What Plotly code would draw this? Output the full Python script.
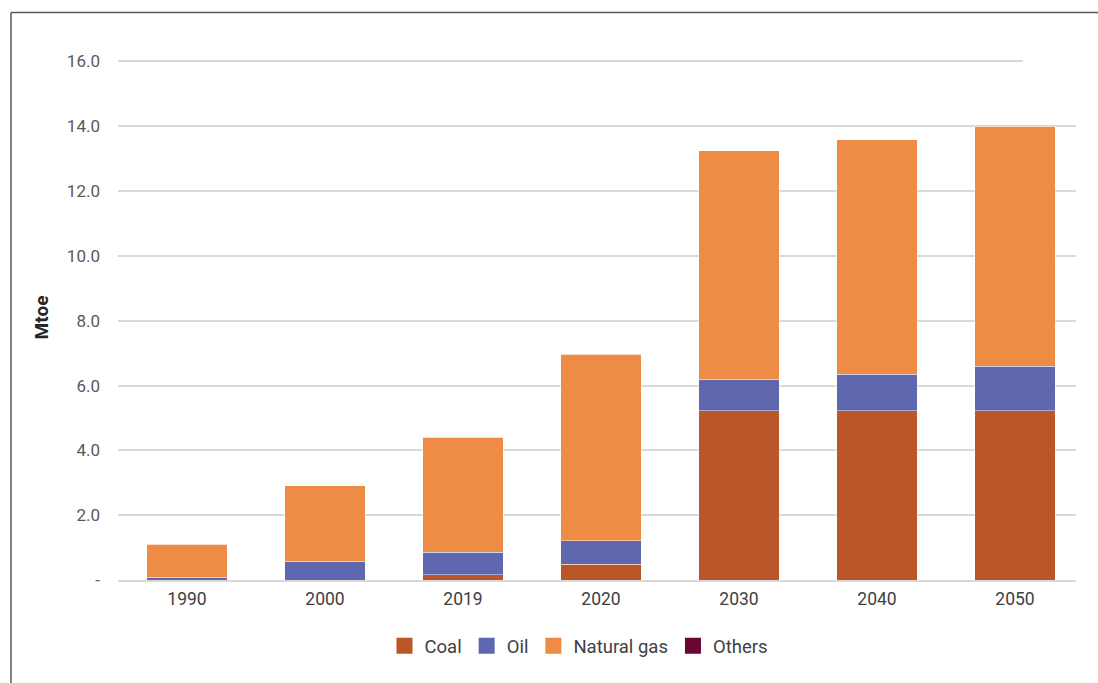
import plotly.graph_objects as go

years = ["1990", "2000", "2019", "2020", "2030", "2040", "2050"]
coal = [0.0, 0.0, 0.16, 0.49, 5.22, 5.22, 5.22]
oil = [0.09, 0.58, 0.70, 0.72, 0.97, 1.13, 1.38]
natural_gas = [1.02, 2.33, 3.55, 5.76, 7.06, 7.24, 7.40]
others = [0.0, 0.0, 0.0, 0.0, 0.0, 0.0, 0.0]

series = [
    ("Coal", coal, "#BA5627"),
    ("Oil", oil, "#5F67AF"),
    ("Natural gas", natural_gas, "#EE8B45"),
    ("Others", others, "#6A0534"),
]

tick_vals = [0, 2, 4, 6, 8, 10, 12, 14, 16]
tick_text = ["-", "2.0", "4.0", "6.0", "8.0", "10.0", "12.0", "14.0", "16.0"]

fig = go.Figure()
for name, vals, color in series:
    fig.add_trace(go.Bar(
        x=years, y=vals, name=name, showlegend=False,
        marker=dict(color=color, line=dict(color="rgba(255,255,255,0.45)", width=1)),
    ))
# legend entries with larger square swatches
for name, vals, color in series:
    fig.add_trace(go.Scatter(
        x=[None], y=[None], name=name, mode="markers",
        marker=dict(symbol="square", size=16, color=color),
    ))

font_family = "Roboto, 'Open Sans', sans-serif"
L, R, T, B = 118, 14, 54.5, 103.3
pw = 1098 - L - R
ph = 683 - T - B


def px_x(p):
    return (p - L) / pw


def px_y(p):
    return (683 - B - p) / ph


fig.update_layout(
    barmode="stack",
    bargap=0.42,
    width=1098, height=683,
    margin=dict(l=L, r=R, t=T, b=B),
    paper_bgcolor="white",
    plot_bgcolor="white",
    font=dict(family=font_family, size=16, color="#595959"),
    showlegend=True,
    legend=dict(
        orientation="h", x=px_x(579), xanchor="center", y=px_y(646), yanchor="middle",
        font=dict(size=18.5, color="#404040"), traceorder="normal",
        itemwidth=30, itemsizing="trace",
    ),
    xaxis=dict(
        type="category", showgrid=False, showline=True, linecolor="#d9d9d9",
        linewidth=1.5, ticks="", tickfont=dict(size=17.5, color="#404040"),
        ticklabelstandoff=2,
    ),
    yaxis=dict(
        range=[0, 16.2], tickvals=tick_vals, ticktext=tick_text,
        showgrid=True, gridcolor="#d9d9d9", gridwidth=1.5,
        zeroline=False, showline=False, ticks="",
        tickfont=dict(size=17, color="#595959"),
        ticklabelstandoff=17,
        title=dict(text="<b>Mtoe</b>", font=dict(size=19, color="#262626"), standoff=13),
    ),
    shapes=[
        # gridlines and axis line stop short of the right edge
        dict(type="rect", xref="paper", yref="paper", x0=px_x(1076), x1=1.01, y0=-0.012, y1=1.01,
             fillcolor="white", line=dict(width=0), layer="above"),
        # top gridline is shorter
        dict(type="line", xref="paper", yref="y", x0=px_x(1023), x1=1.0, y0=16, y1=16,
             line=dict(color="white", width=3), layer="above"),
        # frame lines (left and top)
        dict(type="line", xref="paper", yref="paper", x0=px_x(11), x1=px_x(11),
             y0=px_y(12), y1=px_y(700), line=dict(color="#595959", width=1.5)),
        dict(type="line", xref="paper", yref="paper", x0=px_x(11), x1=px_x(1110),
             y0=px_y(12), y1=px_y(12), line=dict(color="#595959", width=1.5)),
    ],
)

fig.write_html("out.html")
